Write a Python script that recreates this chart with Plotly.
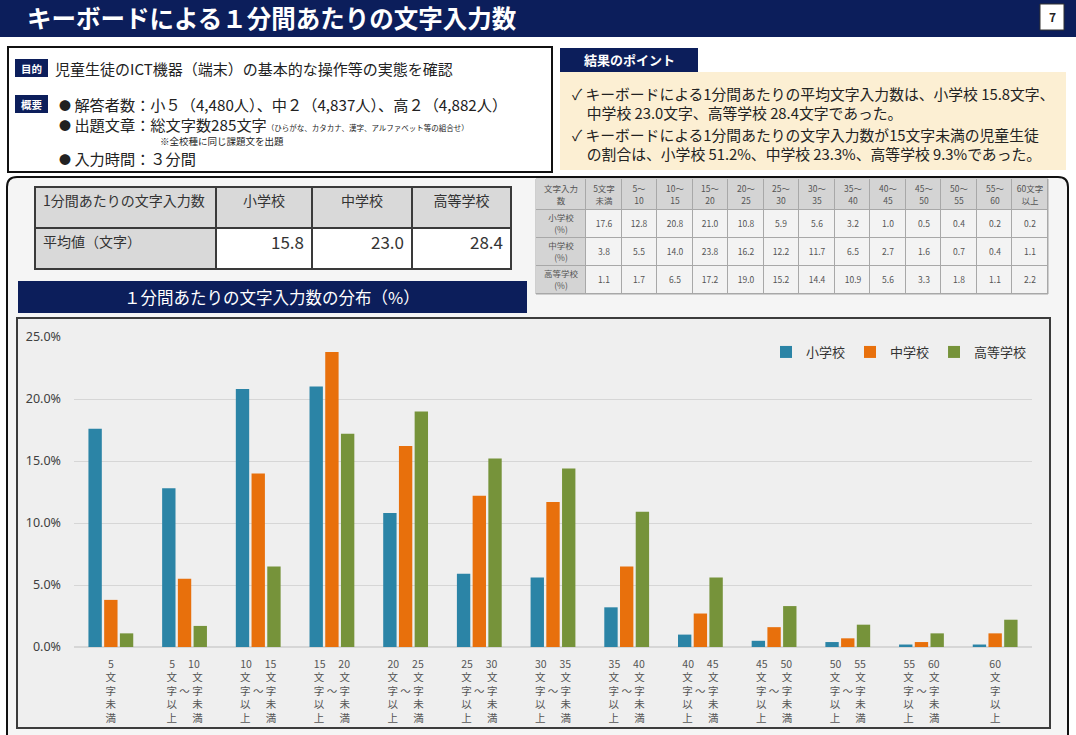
import numpy as np
import plotly.graph_objects as go

# ---------------- data ----------------
bin_keys = ["5文字未満", "5～10", "10～15", "15～20", "20～25", "25～30", "30～35",
            "35～40", "40～45", "45～50", "50～55", "55～60", "60文字以上"]
bin_low = ["", "5", "10", "15", "20", "25", "30", "35", "40", "45", "50", "55", "60"]
bin_high = ["5", "10", "15", "20", "25", "30", "35", "40", "45", "50", "55", "60", ""]
table_head = ["文字入力<br>数", "5文字<br>未満", "5～<br>10", "10～<br>15", "15～<br>20", "20～<br>25",
              "25～<br>30", "30～<br>35", "35～<br>40", "40～<br>45", "45～<br>50", "50～<br>55",
              "55～<br>60", "60文字<br>以上"]
schools = ["小学校", "中学校", "高等学校"]
elementary = [17.6, 12.8, 20.8, 21.0, 10.8, 5.9, 5.6, 3.2, 1.0, 0.5, 0.4, 0.2, 0.2]
junior = [3.8, 5.5, 14.0, 23.8, 16.2, 12.2, 11.7, 6.5, 2.7, 1.6, 0.7, 0.4, 1.1]
high = [1.1, 1.7, 6.5, 17.2, 19.0, 15.2, 14.4, 10.9, 5.6, 3.3, 1.8, 1.1, 2.2]
avg_chars = [15.8, 23.0, 28.4]
colors = ["#2b84a6", "#e8700c", "#76933a"]

W, H = 1076, 735
FONT = "Noto Sans CJK JP"
NAVY = "#0c1e5b"


def X(p):
    return p / W


def Y(p):
    return 1 - p / H


# ---------------- tick labels ----------------
ticktext = []
for lo, hi in zip(bin_low, bin_high):
    if lo == "":
        ticktext.append(f"{hi}<br>文<br>字<br>未<br>満")
    elif hi == "":
        ticktext.append(f"{lo}<br>文<br>字<br>以<br>上")
    else:
        ticktext.append(
            f"{lo}\u3000\u00a0{hi}<br>文\u00a0\u3000\u00a0文<br>字\u00a0～\u00a0字<br>"
            f"以\u00a0\u3000\u00a0未<br>上\u00a0\u3000\u00a0満")

fig = go.Figure()

# ---------------- bars ----------------
for name, vals, col in zip(schools, [elementary, junior, high], colors):
    fig.add_trace(go.Bar(x=bin_keys, y=vals, name=name, marker=dict(color=col, line=dict(width=0)),
                         hoverinfo="skip"))

# ---------------- summary table ----------------
fig.add_trace(go.Table(
    domain=dict(x=[X(35), X(511)], y=[Y(275), Y(187)]),
    columnwidth=[181, 96, 100, 99],
    header=dict(values=["1分間あたりの文字入力数"] + schools,
                fill_color="#d9d9d9", line=dict(color="#3a3a3a", width=1.5),
                align=["left", "center", "center", "center"],
                font=dict(family=FONT, size=14, color="#333333"), height=41),
    cells=dict(values=[["平均値（文字）"]] + [[f"{v:.1f}"] for v in avg_chars],
               fill_color=["#d9d9d9", "white", "white", "white"],
               line=dict(color="#3a3a3a", width=1.5),
               align=["left", "right", "right", "right"],
               font=dict(family=FONT, size=[14, 17, 17, 17], color="#333333"), height=41),
))

# ---------------- data table (cells as a heatmap grid) ----------------
col_w = [50] + [35.5] * 13
row_h = [31, 28, 28, 28]
x_edges = np.concatenate([[0], np.cumsum(col_w)])
y_edges = np.concatenate([[0], np.cumsum(row_h)])
z = [[0] * 14]
txt = [table_head]
for s, series in zip(schools, [elementary, junior, high]):
    z.append([0] + [1] * 13)
    txt.append([f"{s}<br>(%)"] + [f"{v:.1f}" for v in series])
fig.add_trace(go.Heatmap(
    z=z, x=x_edges, y=y_edges, text=txt, texttemplate="%{text}",
    textfont=dict(family=FONT, size=8.5, color="#555555"),
    colorscale=[[0, "#d4d4d4"], [1, "#f3f3f3"]], zmin=0, zmax=1, showscale=False,
    xgap=1, ygap=1, xaxis="x2", yaxis="y2", hoverinfo="skip"))

# ---------------- shapes ----------------
shapes = []


def rect(x0, y0, x1, y1, fill, line_color=None, lw=0, layer="below"):
    shapes.append(dict(type="rect", xref="paper", yref="paper",
                       x0=X(x0), x1=X(x1), y0=Y(y1), y1=Y(y0), fillcolor=fill,
                       line=dict(color=line_color or fill, width=lw), layer=layer))


# header
rect(0, 0, W, 37, NAVY)
rect(1040, 4, 1064, 30, "white", "#333333", 1)
# left info box
rect(8, 47, 552, 172, "white", "#111111", 2)
rect(15, 59, 48, 77, NAVY)
rect(15, 95, 48, 113, NAVY)
# right points
rect(560, 48, 698, 72, NAVY)
rect(560, 72, 1066, 170, "#fcefd3")
# outer panel with rounded top corners
x0, x1, y0, y1, r = 7, 1068, 177, 760, 10
path = (f"M {X(x0)},{Y(y1)} L {X(x0)},{Y(y0 + r)} Q {X(x0)},{Y(y0)} {X(x0 + r)},{Y(y0)} "
        f"L {X(x1 - r)},{Y(y0)} Q {X(x1)},{Y(y0)} {X(x1)},{Y(y0 + r)} L {X(x1)},{Y(y1)} Z")
shapes.append(dict(type="path", xref="paper", yref="paper", path=path, fillcolor="#f5f5f5",
                   line=dict(color="#111111", width=2), layer="below"))
# grid colour behind the data table
rect(536, 179, 1048, 294, "#a8a8a8", "#a8a8a8", 1)
# chart title banner
rect(18, 281, 527, 313, NAVY)
# inner chart panel
rect(17, 318, 1050, 728, "#efefef", "#3c3c3c", 2)

# ---------------- annotations ----------------
ann = []


def text(x, y, s, size=13, color="#222222", anchor="left", bold=False):
    if bold:
        s = f"<b>{s}</b>"
    ann.append(dict(x=X(x), y=Y(y), xref="paper", yref="paper", text=s, showarrow=False,
                    xanchor=anchor, yanchor="middle", align="left", borderpad=0,
                    font=dict(family=FONT, size=size, color=color)))


BUL = "<span style='font-size:12px'>●</span>\u00a0"
text(26, 18, "キーボードによる１分間あたりの文字入力数", 24.5, "white", bold=True)
text(1052, 17, "7", 12, "#222222", "center", bold=True)
text(31.5, 68, "目的", 10.5, "white", "center", bold=True)
text(54, 68, "児童生徒のICT機器（端末）の基本的な操作等の実態を確認", 15)
text(31.5, 104, "概要", 10.5, "white", "center", bold=True)
text(58, 103.5, BUL + "解答者数：小５（4,480人）、中２（4,837人）、高２（4,882人）", 15.2)
text(58, 124, BUL + "出題文章：総文字数285文字"
     "<span style='font-size:7.5px'>（ひらがな、カタカナ、漢字、アルファベット等の組合せ）</span>", 15.2)
text(159, 140.5, "※全校種に同じ課題文を出題", 9.5)
text(58, 157.5, BUL + "入力時間：３分間", 15.2)

text(629, 60, "結果のポイント", 13, "white", "center", bold=True)
s1 = [elementary[0] + elementary[1] + elementary[2], junior[0] + junior[1] + junior[2],
      high[0] + high[1] + high[2]]
text(571, 103,
     f"✓\u00a0キーボードによる1分間あたりの平均文字入力数は、{schools[0]} {avg_chars[0]:.1f}文字、<br>"
     f"\u3000{schools[1]} {avg_chars[1]:.1f}文字、{schools[2]} {avg_chars[2]:.1f}文字であった。", 14.8)
text(571, 144,
     "✓\u00a0キーボードによる1分間あたりの文字入力数が15文字未満の児童生徒<br>"
     f"\u3000の割合は、{schools[0]} {s1[0]:.1f}%、{schools[1]} {s1[1]:.1f}%、"
     f"{schools[2]} {s1[2]:.1f}%であった。", 14.8)

text(272, 297, "１分間あたりの文字入力数の分布（%）", 16.5, "white", "center")

fig.update_layout(
    width=W, height=H, margin=dict(l=0, r=0, t=0, b=0, autoexpand=False),
    paper_bgcolor="white", plot_bgcolor="rgba(0,0,0,0)",
    font=dict(family=FONT, color="#333333"),
    shapes=shapes, annotations=ann,
    barmode="group", bargap=0.36, bargroupgap=0.15,
    showlegend=True,
    legend=dict(orientation="h", x=X(766), y=Y(352), xanchor="left", yanchor="middle",
                bgcolor="rgba(0,0,0,0)", font=dict(family=FONT, size=13, color="#333333"),
                itemwidth=30),
    xaxis=dict(domain=[X(74), X(1032)], type="category", tickvals=bin_keys, ticktext=ticktext,
               showgrid=False, showline=False, ticks="", zeroline=False, automargin=False,
               ticklabelstandoff=9,
               tickfont=dict(family=FONT, size=10.5, color="#555555"), fixedrange=True),
    yaxis=dict(domain=[Y(647), Y(337)], range=[0, 25], dtick=5, tickformat=".1f",
               ticksuffix="%", showgrid=True, gridcolor="#d6d6d6", zeroline=True,
               zerolinecolor="#d6d6d6", ticks="", ticklabelstandoff=12, automargin=False,
               tickfont=dict(family="Noto Sans", size=12.5, color="#404040"), fixedrange=True),
    xaxis2=dict(domain=[X(536), X(1048)], range=[0, float(x_edges[-1])], visible=False,
                fixedrange=True, anchor="y2"),
    yaxis2=dict(domain=[Y(294), Y(179)], range=[float(y_edges[-1]), 0], visible=False,
                fixedrange=True, anchor="x2"),
)

fig.write_html("out.html", config={"displayModeBar": False, "staticPlot": True},
               post_script="document.body.style.margin='0';")
